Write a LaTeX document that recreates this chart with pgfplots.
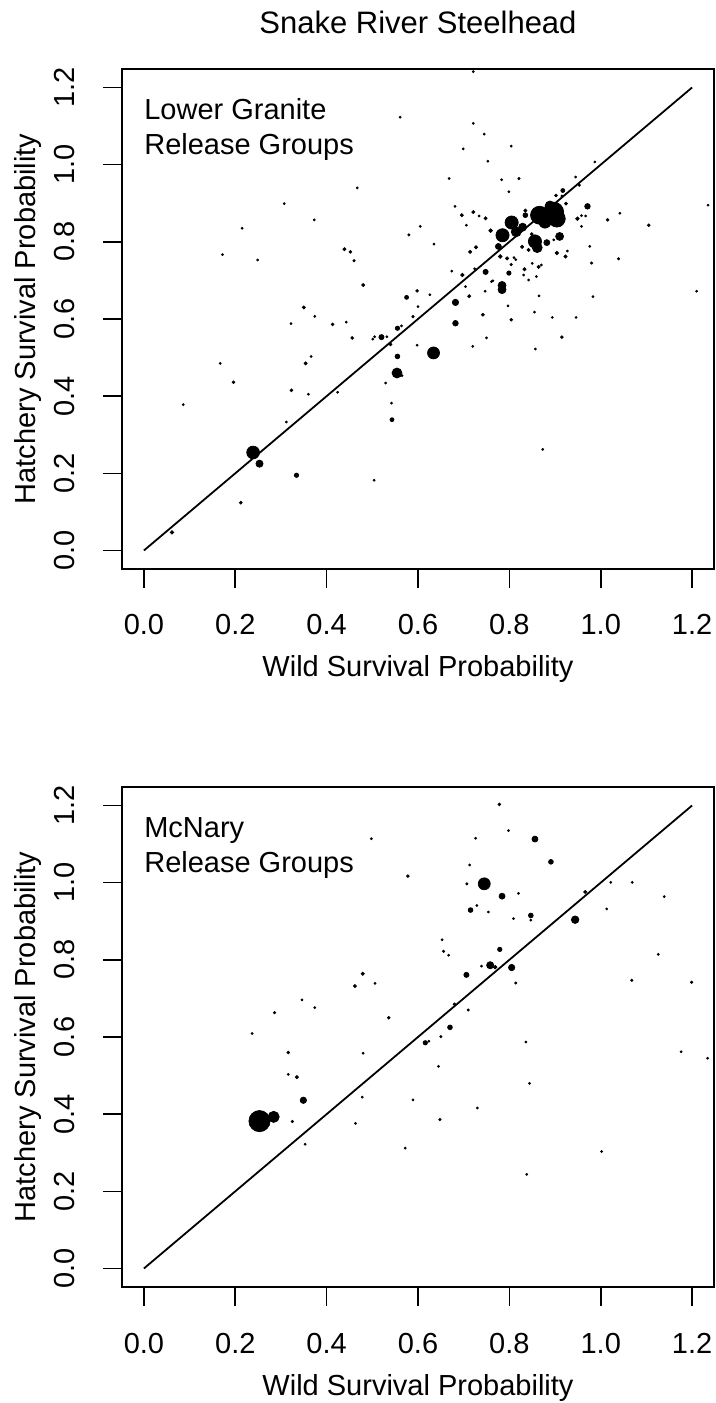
\documentclass[border=0pt]{standalone}
\usepackage{pgfplots}
\pgfplotsset{compat=1.18}
\usepackage{pgfplotstable}
\usepackage{fontspec}
\setmainfont{Liberation Sans}

\pgfplotstableread{
x y r
0.561 1.123 0.5
0.467 0.940 0.5
0.307 0.899 0.5
0.373 0.857 0.5
0.215 0.835 0.5
0.605 0.840 0.5
0.580 0.818 0.6
0.439 0.781 0.8
0.452 0.774 0.7
0.460 0.751 0.6
0.172 0.767 0.5
0.249 0.753 0.5
0.480 0.688 0.8
0.598 0.673 0.7
0.575 0.656 1.0
0.600 0.632 0.5
0.350 0.630 0.8
0.374 0.607 0.5
0.589 0.606 0.6
0.322 0.588 0.5
0.413 0.586 0.7
0.443 0.592 0.5
0.456 0.551 0.7
0.555 0.576 1.1
0.564 0.582 0.5
0.520 0.553 1.3
0.501 0.548 0.5
0.505 0.554 0.5
0.532 0.554 0.5
0.540 0.534 0.7
0.598 0.532 0.5
0.555 0.503 1.2
0.554 0.460 2.5
0.565 0.453 0.5
0.366 0.503 0.5
0.354 0.485 0.8
0.167 0.485 0.5
0.196 0.436 0.7
0.086 0.378 0.5
0.323 0.415 0.7
0.360 0.405 0.5
0.424 0.410 0.5
0.529 0.434 0.5
0.312 0.333 0.5
0.542 0.382 0.5
0.543 0.339 1.0
0.239 0.254 3.2
0.253 0.225 1.8
0.334 0.195 1.1
0.504 0.182 0.5
0.212 0.124 0.7
0.0615 0.047 0.9
0.721 1.241 0.5
0.721 1.107 0.5
0.745 1.079 0.5
0.699 1.041 0.5
0.804 1.048 0.5
0.753 1.009 0.5
0.987 1.007 0.5
0.668 0.964 0.5
0.783 0.961 0.5
0.821 0.964 0.6
0.945 0.968 0.5
0.953 0.947 0.6
0.799 0.930 0.5
0.917 0.933 1.0
0.902 0.920 0.7
0.915 0.919 0.5
0.924 0.899 0.8
0.971 0.892 1.4
1.235 0.895 0.5
0.681 0.892 0.5
0.696 0.869 0.8
0.721 0.877 0.8
0.734 0.867 0.5
0.748 0.861 0.8
0.706 0.843 0.5
0.835 0.881 0.8
0.835 0.869 1.2
0.759 0.829 0.9
0.849 0.820 0.7
0.897 0.805 0.5
0.842 0.779 0.8
0.828 0.787 0.8
0.904 0.771 0.9
0.923 0.762 0.8
0.927 0.776 0.5
0.949 0.860 0.9
0.958 0.868 0.5
0.967 0.867 0.5
0.958 0.840 0.5
1.015 0.857 0.7
1.042 0.874 0.5
1.105 0.843 0.7
0.976 0.788 0.5
0.980 0.745 0.6
1.039 0.756 0.6
0.635 0.794 0.5
0.714 0.774 0.8
0.727 0.786 0.8
0.780 0.762 0.9
0.795 0.757 0.8
0.804 0.741 0.6
0.810 0.759 0.5
0.814 0.754 0.5
0.724 0.730 0.5
0.674 0.724 0.5
0.697 0.714 0.9
0.748 0.722 1.3
0.799 0.719 1.1
0.833 0.729 0.8
0.850 0.744 0.5
0.864 0.735 0.8
0.870 0.740 0.5
0.831 0.714 0.5
0.842 0.701 0.5
0.859 0.710 0.5
0.764 0.699 0.5
0.761 0.697 0.5
0.704 0.684 0.5
0.747 0.672 0.5
0.626 0.663 0.5
0.712 0.659 0.8
0.865 0.660 0.5
0.983 0.658 0.5
1.210 0.672 0.5
0.682 0.643 1.6
0.797 0.634 0.5
0.742 0.611 0.7
0.804 0.598 0.7
0.855 0.618 0.5
0.894 0.604 0.5
0.946 0.604 0.5
0.682 0.589 1.4
0.750 0.551 0.5
0.915 0.553 0.7
0.720 0.529 0.5
0.857 0.522 0.5
0.634 0.512 3.0
0.873 0.262 0.5
0.866 0.869 4.5
0.897 0.877 5.0
0.904 0.860 4.2
0.878 0.851 3.0
0.889 0.893 2.5
0.805 0.850 3.3
0.785 0.817 3.3
0.815 0.826 2.5
0.829 0.838 2.0
0.856 0.801 3.3
0.861 0.785 2.5
0.910 0.814 2.0
0.882 0.798 1.5
0.776 0.788 1.5
0.784 0.687 2.0
0.784 0.676 2.0
}\topdata

\pgfplotstableread{
x y r
0.498 1.114 0.5
0.578 1.017 0.7
0.479 0.764 0.8
0.506 0.739 0.5
0.462 0.732 0.8
0.346 0.696 0.5
0.374 0.676 0.5
0.286 0.663 0.6
0.536 0.650 0.7
0.237 0.609 0.5
0.316 0.560 0.7
0.480 0.558 0.5
0.316 0.503 0.5
0.335 0.496 0.8
0.349 0.436 1.6
0.478 0.444 0.5
0.589 0.437 0.5
0.253 0.382 5.3
0.284 0.393 2.8
0.325 0.381 0.6
0.463 0.376 0.5
0.353 0.322 0.5
0.572 0.312 0.5
0.778 1.203 0.7
0.798 1.135 0.5
0.856 1.113 1.5
0.726 1.115 0.5
0.891 1.054 1.2
0.713 1.046 0.5
0.745 0.997 3.0
0.707 0.997 0.6
0.784 0.965 1.5
0.820 0.972 0.5
0.715 0.929 1.2
0.729 0.941 0.5
0.754 0.924 0.5
0.809 0.907 0.5
0.847 0.915 1.2
0.847 0.903 0.5
0.944 0.904 1.9
0.966 0.976 0.8
1.022 1.001 0.5
1.069 1.001 0.5
1.139 0.964 0.5
1.013 0.932 0.5
0.653 0.852 0.5
0.656 0.822 0.6
0.667 0.812 0.5
0.779 0.827 1.1
0.758 0.786 1.8
0.769 0.781 0.9
0.739 0.784 0.5
0.805 0.780 1.6
0.706 0.761 1.3
0.814 0.740 0.6
1.126 0.814 0.5
1.068 0.747 0.6
1.199 0.742 0.6
0.680 0.685 0.7
0.710 0.670 0.6
0.670 0.625 1.2
0.650 0.601 0.6
0.616 0.585 1.1
0.624 0.589 0.5
0.836 0.587 0.5
1.176 0.562 0.5
1.234 0.545 0.5
0.645 0.524 0.5
0.844 0.480 0.5
0.730 0.416 0.5
0.648 0.386 0.6
1.002 0.303 0.5
0.838 0.244 0.5
}\botdata

\newcommand{\lab}{\fontsize{14.5}{17}\selectfont}

\pgfplotsset{
  panel/.style={
    width=296pt, height=250pt, scale only axis,
    xmin=-0.048, xmax=1.248, ymin=-0.048, ymax=1.248,
    axis line style={line width=0.8pt, black},
    tick style={line width=0.8pt, black},
    tick align=outside, major tick length=9.5pt,
    xtick={0,0.2,0.4,0.6,0.8,1,1.2},
    ytick={0,0.2,0.4,0.6,0.8,1,1.2},
    xticklabels={0.0,0.2,0.4,0.6,0.8,1.0,1.2},
    yticklabels={0.0,0.2,0.4,0.6,0.8,1.0,1.2},
    xtick pos=bottom, ytick pos=left,
    ticklabel style={font=\lab},
    xticklabel style={anchor=base, yshift=-23.5pt},
    yticklabel style={xshift=-14pt, rotate=90, anchor=base},
    anchor=south west,
  },
  pts/.style={scatter, only marks, mark=*,
    scatter/use mapped color={draw=black, fill=black},
    visualization depends on={\thisrow{r} \as \rr},
    scatter/@pre marker code/.append style={/tikz/mark size=\rr},
    mark options={line width=0.35pt}},
}

\begin{document}
\begin{tikzpicture}
\useasboundingbox (0,0) rectangle (358pt,701.5pt);
\begin{axis}[panel, at={(61pt,417pt)}]
\addplot[black, line width=0.9pt] coordinates {(0,0) (1.2,1.2)};
\addplot[pts] table[x=x,y=y] {\topdata};
\node[anchor=base west, font=\lab, inner sep=0pt] at (axis cs:0,1.117) {Lower Granite};
\node[anchor=base west, font=\lab, inner sep=0pt] at (axis cs:0,1.027) {Release Groups};
\end{axis}
\begin{axis}[panel, at={(61pt,58pt)}]
\addplot[black, line width=0.9pt] coordinates {(0,0) (1.2,1.2)};
\addplot[pts] table[x=x,y=y] {\botdata};
\node[anchor=base west, font=\lab, inner sep=0pt] at (axis cs:0,1.117) {McNary};
\node[anchor=base west, font=\lab, inner sep=0pt] at (axis cs:0,1.027) {Release Groups};
\end{axis}
\node[anchor=base, font=\fontsize{15.5}{18}\selectfont, inner sep=0pt] at (209pt,684.8pt) {Snake River Steelhead};
\node[anchor=base, font=\lab, inner sep=0pt] at (209pt,363pt) {Wild Survival Probability};
\node[anchor=base, font=\lab, inner sep=0pt] at (209pt,4pt) {Wild Survival Probability};
\node[rotate=90, anchor=base, font=\lab, inner sep=0pt] at (17.5pt,542pt) {Hatchery Survival Probability};
\node[rotate=90, anchor=base, font=\lab, inner sep=0pt] at (17.5pt,183pt) {Hatchery Survival Probability};
\end{tikzpicture}
\end{document}
